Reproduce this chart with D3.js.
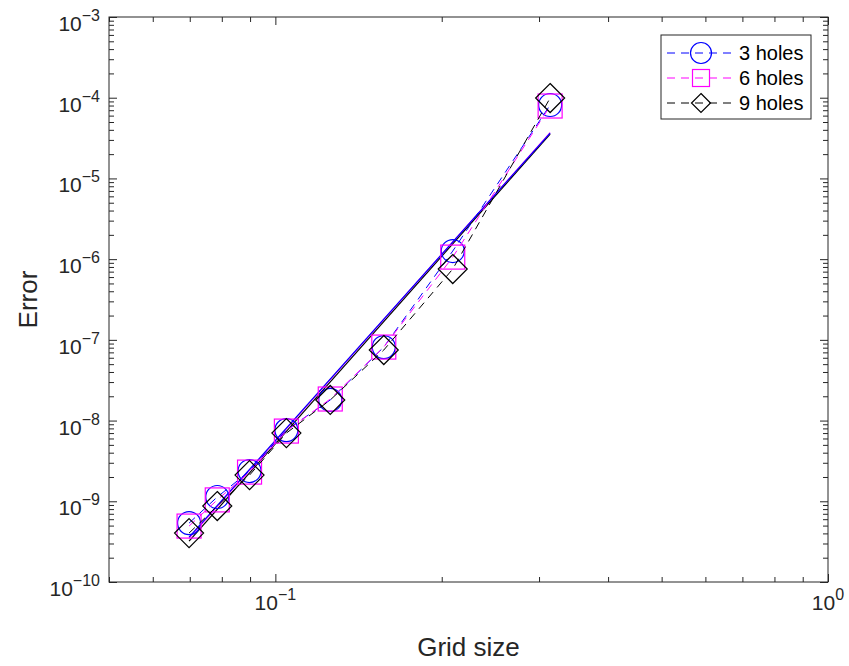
<!DOCTYPE html>
<html lang="en">
<head>
    <meta charset="utf-8">
    <script src="https://d3js.org/d3.v7.min.js"></script>
    <style>
        body { margin: 0; background: white; }
        text { font-family: "Liberation Sans", Arial, sans-serif; fill: #262626; }
        .tick-label { font-size: 21px; }
        .axis-title { font-size: 26px; }
        .legend-text { font-size: 20px; fill: black; }
    </style>
</head>
<body>
<div id="chart"></div>
<script>
    // grid sizes (x) and errors per case
    const gridSize = [0.0698, 0.0785, 0.0898, 0.1047, 0.1257, 0.1571, 0.2094, 0.3142];
    const err3 = [5.37e-10, 1.13e-9, 2.37e-9, 7.62e-9, 1.80e-8, 8.14e-8, 1.26e-6, 8.12e-5];
    const err6 = [4.93e-10, 1.04e-9, 2.30e-9, 7.41e-9, 1.85e-8, 8.14e-8, 1.06e-6, 7.89e-5];
    const err9 = [4.04e-10, 8.73e-10, 2.11e-9, 7.00e-9, 1.80e-8, 7.48e-8, 7.54e-7, 9.91e-5];

    // fitted (solid) lines, two end points each
    const fitX = [0.0698, 0.3142];
    const fit3 = [3.60e-10, 3.65e-5];
    const fit6 = [3.50e-10, 3.70e-5];
    const fit9 = [3.21e-10, 3.55e-5];

    const seriesNames = ["3 holes", "6 holes", "9 holes"];
    const xMajor = [-2, -1, 0];       // exponents for x tick labels
    const yMajor = [-10, -9, -8, -7, -6, -5, -4, -3];

    const W = 849, H = 666;
    const margin = { top: 17, right: 21, bottom: 84, left: 109 };
    const width = W - margin.left - margin.right;
    const height = H - margin.top - margin.bottom;

    const colors = ["#0000ff", "#ff00ff", "#000000"];
    const markers = ["circle", "square", "diamond"];

    const svg = d3.select("#chart").append("svg")
        .attr("width", W)
        .attr("height", H);

    const g = svg.append("g")
        .attr("transform", `translate(${margin.left},${margin.top})`);

    const x = d3.scaleLog().domain([0.05, 1]).range([0, width]);
    const y = d3.scaleLog().domain([1e-10, 1e-3]).range([height, 0]);

    // minor tick values
    const xMinor = [];
    [0.01, 0.1].forEach(b => { for (let k = 2; k <= 9; k++) { const v = b * k; if (v >= 0.05 && v < 1) xMinor.push(v); } });
    const yMinor = [];
    for (let e = -10; e < -3; e++) { for (let k = 2; k <= 9; k++) yMinor.push(k * Math.pow(10, e)); }
    const xMajVals = xMajor.map(e => Math.pow(10, e)).filter(v => v >= 0.05 && v <= 1);
    const yMajVals = yMajor.map(e => Math.pow(10, e));

    function addTicks(axisFn, scale, vals, size, transform) {
        g.append("g")
            .attr("transform", transform)
            .call(axisFn(scale).tickValues(vals).tickSize(size).tickFormat(""))
            .call(s => s.select(".domain").remove())
            .call(s => s.selectAll("line").attr("stroke", "#262626"));
    }
    // ticks point inward on all four sides
    addTicks(d3.axisBottom, x, xMinor, -5, `translate(0,${height})`);
    addTicks(d3.axisBottom, x, xMajVals, -8, `translate(0,${height})`);
    addTicks(d3.axisTop, x, xMinor, -5, `translate(0,0)`);
    addTicks(d3.axisTop, x, xMajVals, -8, `translate(0,0)`);
    addTicks(d3.axisLeft, y, yMinor, -5, `translate(0,0)`);
    addTicks(d3.axisLeft, y, yMajVals, -8, `translate(0,0)`);
    addTicks(d3.axisRight, y, yMinor, -5, `translate(${width},0)`);
    addTicks(d3.axisRight, y, yMajVals, -8, `translate(${width},0)`);

    // box
    g.append("rect")
        .attr("width", width).attr("height", height)
        .attr("fill", "none").attr("stroke", "#262626").attr("stroke-width", 1);

    const expText = e => String(e).replace("-", "\u2212");

    // tick labels with superscripts
    xMajor.forEach(e => {
        const v = Math.pow(10, e);
        if (v < 0.05 || v > 1) return;
        const t = g.append("text").attr("class", "tick-label")
            .attr("x", x(v)).attr("y", height + 28)
            .attr("text-anchor", "middle");
        t.append("tspan").text("10");
        t.append("tspan").attr("dy", -10).style("font-size", "16px").text(expText(e));
    });
    yMajor.forEach(e => {
        const t = g.append("text").attr("class", "tick-label")
            .attr("x", -9).attr("y", y(Math.pow(10, e)) + 14)
            .attr("text-anchor", "end");
        t.append("tspan").text("10");
        t.append("tspan").attr("dy", -10).style("font-size", "16px").text(expText(e));
    });

    // axis titles
    g.append("text").attr("class", "axis-title")
        .attr("x", width / 2).attr("y", height + 74)
        .attr("text-anchor", "middle")
        .text("Grid size");
    g.append("text").attr("class", "axis-title")
        .attr("transform", `translate(${-72},${height / 2}) rotate(-90)`)
        .attr("text-anchor", "middle")
        .text("Error");

    const line = d3.line().x(d => x(d[0])).y(d => y(d[1]));

    // fitted lines (solid)
    const fits = [fit3, fit6, fit9];
    [2, 1, 0].forEach(i => {
        g.append("path")
            .datum(fitX.map((v, j) => [v, fits[i][j]]))
            .attr("d", line)
            .attr("fill", "none")
            .attr("stroke", colors[i])
            .attr("stroke-width", 1.2);
    });

    function drawMarker(sel, type, cx, cy, color, size) {
        if (type === "circle") {
            sel.append("circle").attr("cx", cx).attr("cy", cy).attr("r", size / 2)
                .attr("fill", "none").attr("stroke", color);
        } else if (type === "square") {
            sel.append("rect").attr("x", cx - size / 2).attr("y", cy - size / 2)
                .attr("width", size).attr("height", size)
                .attr("fill", "none").attr("stroke", color);
        } else {
            const r = size / 2;
            sel.append("path")
                .attr("d", `M${cx},${cy - r}L${cx + r},${cy}L${cx},${cy + r}L${cx - r},${cy}Z`)
                .attr("fill", "none").attr("stroke", color);
        }
    }

    // data series (dashed with markers)
    const errs = [err3, err6, err9];
    const markerSize = [23, 24, 29];
    errs.forEach((e, i) => {
        const pts = gridSize.map((v, j) => [v, e[j]]);
        g.append("path")
            .datum(pts)
            .attr("d", line)
            .attr("fill", "none")
            .attr("stroke", colors[i])
            .attr("stroke-width", 1)
            .attr("stroke-dasharray", "8,6");
        const mg = g.append("g").attr("stroke-width", 1.2);
        pts.forEach(p => drawMarker(mg, markers[i], x(p[0]), y(p[1]), colors[i], markerSize[i]));
    });

    // legend
    const lg = svg.append("g").attr("transform", "translate(661,35)");
    lg.append("rect").attr("width", 150).attr("height", 84)
        .attr("fill", "white").attr("stroke", "#262626").attr("stroke-width", 1);
    const legSize = [21, 17, 19];
    seriesNames.forEach((name, i) => {
        const cy = 18 + i * 25;
        lg.append("line").attr("x1", 6).attr("x2", 72).attr("y1", cy).attr("y2", cy)
            .attr("stroke", colors[i]).attr("stroke-dasharray", "8,6");
        const mg = lg.append("g").attr("stroke-width", 1.2);
        drawMarker(mg, markers[i], 40, cy, colors[i], legSize[i]);
        lg.append("text").attr("class", "legend-text")
            .attr("x", 78).attr("y", cy + 7)
            .text(name);
    });
</script>
</body>
</html>
